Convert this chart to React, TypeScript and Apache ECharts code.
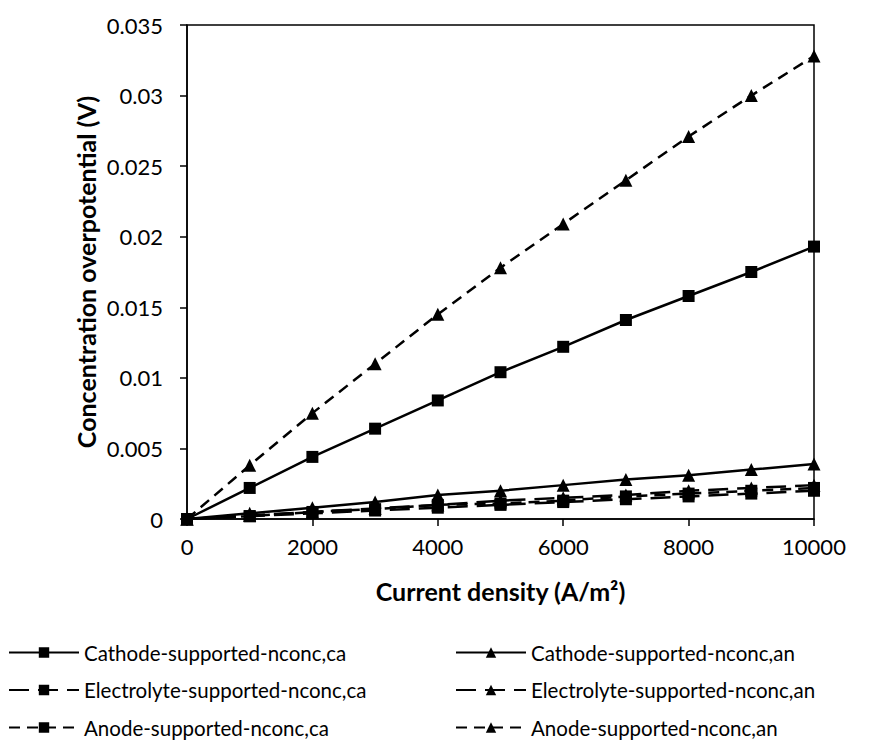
import React, { useEffect, useRef } from "react";
import * as echarts from "echarts";

const currentDensity = [0, 1000, 2000, 3000, 4000, 5000, 6000, 7000, 8000, 9000, 10000];
const cathodeCa = [0, 0.0022, 0.0044, 0.0064, 0.0084, 0.0104, 0.0122, 0.0141, 0.0158, 0.0175, 0.0193];
const cathodeAn = [0, 0.0004, 0.0008, 0.0012, 0.0017, 0.002, 0.0024, 0.0028, 0.0031, 0.0035, 0.0039];
const electrolyteCa = [0, 0.0002, 0.0004, 0.0006, 0.0008, 0.001, 0.0012, 0.0014, 0.0016, 0.0018, 0.002];
const electrolyteAn = [0, 0.00025, 0.0005, 0.00075, 0.001, 0.0013, 0.0015, 0.0017, 0.002, 0.0022, 0.0024];
const anodeCa = [0, 0.0002, 0.0005, 0.0007, 0.001, 0.0011, 0.0013, 0.0016, 0.0018, 0.002, 0.0022];
const anodeAn = [0, 0.0038, 0.0075, 0.011, 0.0145, 0.0178, 0.0209, 0.024, 0.0271, 0.03, 0.0328];

const seriesNames = [
  "Cathode-supported-nconc,ca",
  "Cathode-supported-nconc,an",
  "Electrolyte-supported-nconc,ca",
  "Electrolyte-supported-nconc,an",
  "Anode-supported-nconc,ca",
  "Anode-supported-nconc,an",
];

const FONT = "Lato";

export default function App() {
  const ref = useRef<HTMLDivElement>(null);
  useEffect(() => {
    document.body.style.margin = "0";
    const chart = echarts.init(ref.current!, null, { renderer: "svg" });
    const pair = (ys: number[]) => currentDensity.map((x, i) => [x, ys[i]]);
    const mk = (
      name: string,
      ys: number[],
      symbol: string,
      dash: any,
      size: number
    ) => ({
      name,
      type: "line",
      data: pair(ys),
      symbol,
      symbolSize: size,
      showSymbol: true,
      lineStyle: { color: "#000", width: 2.5, type: dash },
      itemStyle: { color: "#000", borderWidth: 0 },
      emphasis: { disabled: true },
    });
    const longDash = [20, 9];
    const shortDash = [11, 7];
    const legendBase = {
      orient: "vertical",
      top: 642,
      height: 130,
      padding: 0,
      itemWidth: 70,
      itemHeight: 13,
      itemGap: 16.5,
      selectedMode: false,
      textStyle: { fontFamily: FONT, fontSize: 20.5, color: "#000" },
    };
    chart.setOption({
      animation: false,
      grid: {
        left: 187,
        right: 62,
        top: 25,
        bottom: 221,
        show: true,
        borderColor: "#000",
        borderWidth: 1.5,
      },
      legend: [
        { ...legendBase, left: 8, data: [seriesNames[0], seriesNames[2], seriesNames[4]] },
        { ...legendBase, left: 455, data: [seriesNames[1], seriesNames[3], seriesNames[5]] },
      ],
      xAxis: {
        type: "value",
        min: 0,
        max: 10000,
        interval: 2000,
        name: "Current density (A/m²)",
        nameLocation: "middle",
        nameGap: 59,
        nameMoveOverlap: false,
        nameTextStyle: { fontFamily: FONT, fontSize: 25, fontWeight: "bold", color: "#000" },
        axisLine: { show: true, lineStyle: { color: "#000", width: 1.5 } },
        axisTick: { show: true, inside: false, length: 7, lineStyle: { color: "#000", width: 1.5 } },
        axisLabel: {
          fontFamily: FONT,
          fontSize: 22,
          color: "#000",
          margin: 16,
          formatter: (v: number) => String(v),
        },
        splitLine: { show: false },
      },
      yAxis: {
        type: "value",
        min: 0,
        max: 0.035,
        interval: 0.005,
        name: "Concentration overpotential (V)",
        nameLocation: "middle",
        nameGap: 89,
        nameMoveOverlap: false,
        nameTextStyle: { fontFamily: FONT, fontSize: 25, fontWeight: "bold", color: "#000" },
        axisLine: { show: true, lineStyle: { color: "#000", width: 1.5 } },
        axisTick: { show: true, inside: false, length: 7, lineStyle: { color: "#000", width: 1.5 } },
        axisLabel: {
          fontFamily: FONT,
          fontSize: 22,
          color: "#000",
          margin: 24,
          formatter: (v: number) => String(parseFloat(v.toFixed(3))),
        },
        splitLine: { show: false },
      },
      series: [
        mk(seriesNames[0], cathodeCa, "rect", "solid", 12),
        mk(seriesNames[1], cathodeAn, "triangle", "solid", 13),
        mk(seriesNames[2], electrolyteCa, "rect", longDash, 12),
        mk(seriesNames[3], electrolyteAn, "triangle", longDash, 13),
        mk(seriesNames[4], anodeCa, "rect", shortDash, 12),
        mk(seriesNames[5], anodeAn, "triangle", shortDash, 13),
      ],
    });
    return () => chart.dispose();
  }, []);
  return <div ref={ref} style={{ width: 876, height: 740 }} />;
}
